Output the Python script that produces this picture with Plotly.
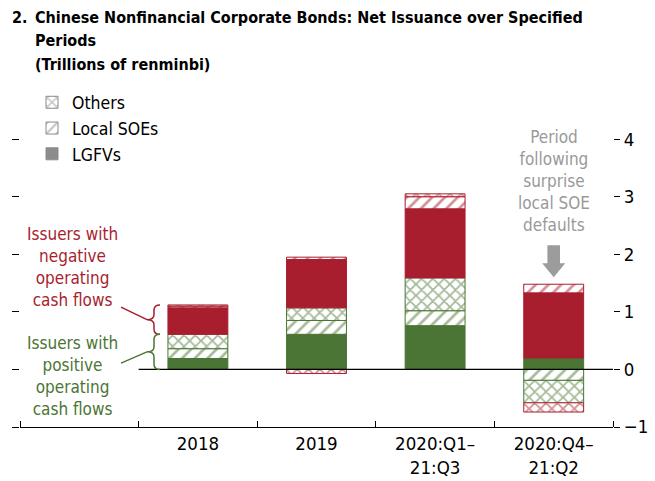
import plotly.graph_objects as go

# ---------------- data ----------------
categories = ["2018", "2019", "2020:Q1–<br>21:Q3", "2020:Q4–<br>21:Q2"]
x_pos = [1, 2, 3, 4]
# Issuers with positive operating cash flows
pos_lgfv = [0.19, 0.61, 0.76, 0.20]
pos_soe = [0.17, 0.24, 0.26, -0.19]
pos_oth = [0.25, 0.22, 0.57, -0.39]
# Issuers with negative operating cash flows
neg_lgfv = [0.46, 0.84, 1.20, 1.13]
neg_soe = [0.03, 0.04, 0.21, 0.15]
neg_oth = [0.02, -0.07, 0.05, -0.16]
y_ticks = [-1, 0, 1, 2, 3, 4]
y_ticktext = ["−1", "0", "1", "2", "3", "4"]
title_lines = ["Chinese Nonfinancial Corporate Bonds: Net Issuance over Specified",
               "Periods", "(Trillions of renminbi)"]

RED = "#a81e2e"
GREEN = "#4b7534"
GRAY = "#999999"
FONT = "Liberation Sans Narrow, Arial Narrow, DejaVu Sans Condensed, Roboto, sans-serif"

fig = go.Figure()

PATTERN_SIZE = {"/": 9, "x": 8}
PATTERN_SOLIDITY = {"/": 0.3, "x": 0.4}


def add_bar(vals, color, shape, name=None, legend=False, yaxis="y", xs=None):
    marker = dict(color="white" if shape else color, line=dict(color=color, width=1))
    if shape:
        marker["pattern"] = dict(shape=shape, fgcolor=color, bgcolor="white",
                                 size=PATTERN_SIZE[shape], solidity=PATTERN_SOLIDITY[shape])
    fig.add_trace(go.Bar(x=xs if xs is not None else x_pos, y=vals, name=name, marker=marker,
                         showlegend=legend, yaxis=yaxis, hoverinfo="skip"))


add_bar(pos_lgfv, GREEN, "")
add_bar(pos_soe, GREEN, "/")
add_bar(pos_oth, GREEN, "x")
add_bar(neg_lgfv, RED, "")
add_bar(neg_soe, RED, "/")
add_bar(neg_oth, RED, "x")

# legend entries (gray)
add_bar([None], "#8c8c8c", "x", name="Others", legend=True, yaxis="y2", xs=[0])
add_bar([None], "#8c8c8c", "/", name="Local SOEs", legend=True, yaxis="y2", xs=[0])
add_bar([None], "#8c8c8c", "", name="LGFVs", legend=True, yaxis="y2", xs=[0])

# ---------------- layout ----------------
W, H = 655, 481
L, R, B = 20, 42, 54
PPU = 57.64                      # pixels per y unit
XR = [-0.5, 4.5]
YR = [-1, 6.0]
pw = W - L - R
ph = PPU * (YR[1] - YR[0])
T = H - B - ph


def xd(px):
    return XR[0] + (px - L) / pw * (XR[1] - XR[0])


def yd(py):
    return YR[1] - (py - T) / ph * (YR[1] - YR[0])


def xp(px):
    return (px - L) / pw


def yp(py):
    return 1 - (py - T) / ph


fig.update_layout(
    width=W, height=H, autosize=False,
    margin=dict(l=L, r=R, t=T, b=B, pad=0, autoexpand=False),
    paper_bgcolor="white", plot_bgcolor="white",
    barmode="relative", bargap=0.495,
    font=dict(family=FONT, size=18, color="black"),
    showlegend=True,
    legend=dict(x=xp(32), xanchor="left", y=yp(84), yanchor="top",
                traceorder="normal", bgcolor="rgba(0,0,0,0)", font=dict(size=17.5),
                itemwidth=30, tracegroupgap=0),
    xaxis=dict(range=XR, tickvals=x_pos, ticktext=categories, ticks="", ticklen=0, automargin=False,
               showline=True, linecolor="black", linewidth=1.2, showgrid=False, zeroline=False,
               tickfont=dict(size=18.5),
               minor=dict(tickmode="array", tickvals=[-0.5, 0.5, 1.5, 2.5, 3.5, 4.5],
                          ticks="inside", ticklen=6, tickcolor="black", tickwidth=1.2, showgrid=False)),
    yaxis=dict(range=YR, side="right", tickvals=y_ticks, ticktext=y_ticktext, ticks="outside",
               automargin=False,
               ticklen=6, tickcolor="black", tickwidth=1.2, showline=False, showgrid=False, zeroline=False,
               tickfont=dict(size=18.5)),
    yaxis2=dict(range=YR, overlaying="y", side="left", tickvals=y_ticks, ticks="outside", ticklen=7,
                automargin=False,
                tickcolor="black", tickwidth=1.2, showticklabels=False, showline=False, showgrid=False,
                zeroline=False),
)

# zero line
fig.add_shape(type="line", xref="x", yref="y", x0=0.5, x1=4.5, y0=0, y1=0,
              line=dict(color="black", width=1.2), layer="above")

# braces for the 2018 bar
pos_total = pos_lgfv[0] + pos_soe[0] + pos_oth[0]
tot_2018 = pos_total + neg_lgfv[0] + neg_soe[0] + neg_oth[0]
xr_, xm_, xl_ = xd(160), xd(154), xd(147)
rr = 0.09


def brace(y0, y1, color):
    ym = (y0 + y1) / 2
    path = (f"M{xr_},{y1} Q{xm_},{y1} {xm_},{y1 - rr} L{xm_},{ym + rr} Q{xm_},{ym} {xl_},{ym} "
            f"Q{xm_},{ym} {xm_},{ym - rr} L{xm_},{y0 + rr} Q{xm_},{y0} {xr_},{y0}")
    fig.add_shape(type="path", xref="x", yref="y", path=path, line=dict(color=color, width=1.5))
    return ym


ym_red = brace(pos_total, tot_2018, RED)
ym_green = brace(0, pos_total, GREEN)
fig.add_shape(type="line", xref="x", yref="y", x0=xl_, y0=ym_red, x1=xd(121), y1=yd(307),
              line=dict(color=RED, width=1.5))
fig.add_shape(type="line", xref="x", yref="y", x0=xl_, y0=ym_green, x1=xd(121), y1=yd(363),
              line=dict(color=GREEN, width=1.5))

# gray block arrow over last bar
cx = x_pos[3]
sw, hw = (xd(20 + 6.3) - xd(20)), (xd(20 + 11.5) - xd(20))
ytop, yneck, ytip = yd(245), yd(263), yd(277)
arrow = (f"M{cx - sw},{ytop} L{cx + sw},{ytop} L{cx + sw},{yneck} L{cx + hw},{yneck} "
         f"L{cx},{ytip} L{cx - hw},{yneck} L{cx - sw},{yneck} Z")
fig.add_shape(type="path", xref="x", yref="y", path=arrow, fillcolor="#9c9c9c",
              line=dict(color="#9c9c9c", width=0))

# text annotations
fig.add_annotation(x=xd(72.5), y=yd(267), xref="x", yref="y", showarrow=False,
                   text="Issuers with<br>negative<br>operating<br>cash flows",
                   font=dict(color=RED, size=17), align="center", xanchor="center", yanchor="middle")
fig.add_annotation(x=xd(72.5), y=yd(376), xref="x", yref="y", showarrow=False,
                   text="Issuers with<br>positive<br>operating<br>cash flows",
                   font=dict(color=GREEN, size=17), align="center", xanchor="center", yanchor="middle")
fig.add_annotation(x=cx, y=yd(181), xref="x", yref="y", showarrow=False,
                   text="Period<br>following<br>surprise<br>local SOE<br>defaults",
                   font=dict(color=GRAY, size=17), align="center", xanchor="center", yanchor="middle")

# title (one annotation per line for exact spacing)
fig.add_annotation(x=xp(11), y=yp(17), xref="paper", yref="paper", showarrow=False,
                   text="<b>2.</b>", xanchor="left", yanchor="middle", align="left",
                   font=dict(size=16), borderpad=0)
for i, line in enumerate(title_lines):
    fig.add_annotation(x=xp(34), y=yp(17 + 23.5 * i), xref="paper", yref="paper", showarrow=False,
                       text=f"<b>{line}</b>", xanchor="left", yanchor="middle", align="left",
                       font=dict(size=16), borderpad=0)

fig.write_html("out.html", config={"displayModeBar": False},
               post_script="document.body.style.margin='0';")
